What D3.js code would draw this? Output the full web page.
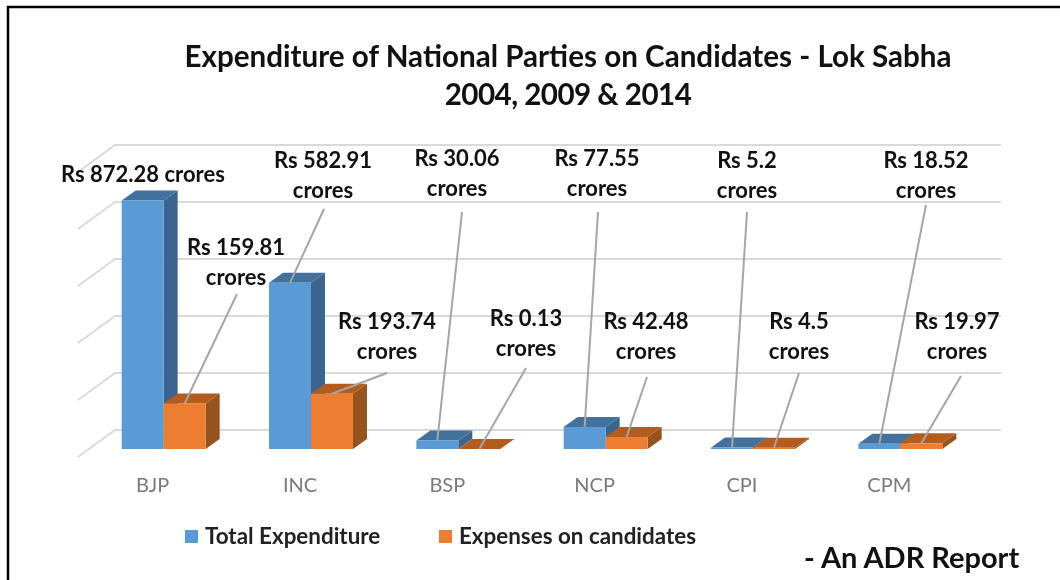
<!DOCTYPE html>
<html>
<head>
<meta charset="utf-8">
<script src="https://cdn.jsdelivr.net/npm/d3@7"></script>
<style>
	html, body {margin: 0; padding: 0; background: #fff;}
	svg {display: block; filter: blur(0.4px);}
	text {font-family: Lato, "Open Sans", sans-serif;}
</style>
</head>
<body>
<svg id="chart" width="1060" height="580"></svg>
<script>
'use strict';

const parties = ["BJP", "INC", "BSP", "NCP", "CPI", "CPM"];
const total_expenditure = [872.28, 582.91, 30.06, 77.55, 5.2, 18.52];
const candidate_expenses = [159.81, 193.74, 0.13, 42.48, 4.5, 19.97];
const grid_ticks = [0, 200, 400, 600, 800, 1000];
const series_names = ["Total Expenditure", "Expenses on candidates"];

// where the callouts sit, [centre x, first line y, leader x, leader y]
const total_callouts = [
	[143, 182, null, null],
	[323, 168, 324, 209],
	[457, 166, 462, 212],
	[597, 166, 598, 212],
	[747, 168, 747, 212],
	[926, 168, 926, 205]
];
const expense_callouts = [
	[236, 255, 237, 294],
	[387, 329, 387, 373],
	[526, 326, 526, 368],
	[646, 329, 647, 377],
	[799, 329, 799, 373],
	[957, 329, 961, 376]
];

const colors = {
	blue: "#5b9bd5", blue_top: "#41719c", blue_side: "#3a6590",
	orange: "#ed7d31", orange_top: "#b35c1e", orange_side: "#97531c"
};

const svg = d3.select("#chart");

// page frame, only top and left are inside the crop
svg.append("path").attr("d", "M8,580V7H1060").attr("fill", "none")
	.attr("stroke", "#000").attr("stroke-width", 2.5);

// title
svg.append("text").attr("x", 568).attr("y", 67).attr("text-anchor", "middle")
	.attr("font-size", 29.6).attr("font-weight", 700).attr("fill", "#111")
	.text("Expenditure of National Parties on Candidates - Lok Sabha");
svg.append("text").attr("x", 568).attr("y", 105).attr("text-anchor", "middle")
	.attr("font-size", 29.6).attr("font-weight", 700).attr("fill", "#111")
	.attr("letter-spacing", -0.55)
	.text("2004, 2009 & 2014");

// scales
const x = d3.scaleBand().domain(parties).range([90, 974]).paddingInner(0.43).paddingOuter(0.215);
const sub_x = d3.scaleBand().domain([0, 1]).range([0, x.bandwidth()]);
const y = d3.scaleLinear().domain([0, 1000]).range([449, 164]);

const bar_depth = {dx: 14, dy: -10};
const wall_depth = {dx: 37, dy: -27};

// floor gridlines bent up the back wall
const grid = svg.append("g").attr("fill", "none").attr("stroke", "#d9d9d9").attr("stroke-width", 1.8);
grid.selectAll("path").data(grid_ticks).enter().append("path")
	.attr("d", d => {
		const y0 = y(d) + 8;
		return `M78,${y0}L${78 + wall_depth.dx},${y0 + wall_depth.dy}H1001`;
	});

// 3d bars
function draw_bars(values, index, front, top, side){
	const g = svg.append("g");
	parties.forEach((p, i) => {
		const x0 = x(p) + sub_x(index);
		const x1 = x0 + sub_x.bandwidth();
		const y0 = y(0);
		const y1 = y(values[i]);
		const d = bar_depth;
		g.append("path").attr("fill", side)
			.attr("d", `M${x1},${y1}L${x1 + d.dx},${y1 + d.dy}V${y0 + d.dy}L${x1},${y0}Z`);
		g.append("path").attr("fill", top)
			.attr("d", `M${x0},${y1}L${x0 + d.dx},${y1 + d.dy}H${x1 + d.dx}L${x1},${y1}Z`);
		g.append("rect").attr("fill", front)
			.attr("x", x0).attr("y", y1)
			.attr("width", x1 - x0).attr("height", y0 - y1);
	});
}
draw_bars(total_expenditure, 0, colors.blue, colors.blue_top, colors.blue_side);
draw_bars(candidate_expenses, 1, colors.orange, colors.orange_top, colors.orange_side);

// category labels
svg.append("g").selectAll("text").data(parties).enter().append("text")
	.attr("x", d => x(d) + x.bandwidth() / 2 - 11)
	.attr("y", 492)
	.attr("text-anchor", "middle")
	.attr("font-size", 20)
	.attr("fill", "#7a7a7a")
	.text(d => d);

// callouts with leader lines
function draw_callouts(values, index, callouts){
	const g = svg.append("g");
	callouts.forEach((c, i) => {
		const p = parties[i];
		if (c[2] !== null) {
			g.append("line")
				.attr("x1", c[2]).attr("y1", c[3])
				.attr("x2", x(p) + sub_x(index) + sub_x.bandwidth() / 2)
				.attr("y2", y(values[i]))
				.attr("stroke", "#a6a6a6").attr("stroke-width", 2);
		}
		const label = g.append("text").attr("text-anchor", "middle")
			.attr("font-size", 22).attr("font-weight", 700).attr("fill", "#111");
		if (c[2] === null) {
			label.attr("x", c[0]).attr("y", c[1]).text("Rs " + values[i] + " crores");
		} else {
			label.append("tspan").attr("x", c[0]).attr("y", c[1]).text("Rs " + values[i]);
			label.append("tspan").attr("x", c[0]).attr("y", c[1] + 30).text("crores");
		}
	});
}
draw_callouts(total_expenditure, 0, total_callouts);
draw_callouts(candidate_expenses, 1, expense_callouts);

// legend
const legend_x = [185, 439];
const legend = svg.append("g");
series_names.forEach((name, i) => {
	legend.append("rect").attr("x", legend_x[i]).attr("y", 530).attr("width", 13).attr("height", 13)
		.attr("fill", i == 0 ? colors.blue : colors.orange);
	legend.append("text").attr("x", legend_x[i] + 20).attr("y", 544)
		.attr("font-size", 22.4).attr("font-weight", 700).attr("fill", "#222").text(name);
});

// source note
svg.append("text").attr("x", 804).attr("y", 568)
	.attr("font-size", 29).attr("font-weight", 700).attr("fill", "#111")
	.text("- An ADR Report");
</script>
</body>
</html>
